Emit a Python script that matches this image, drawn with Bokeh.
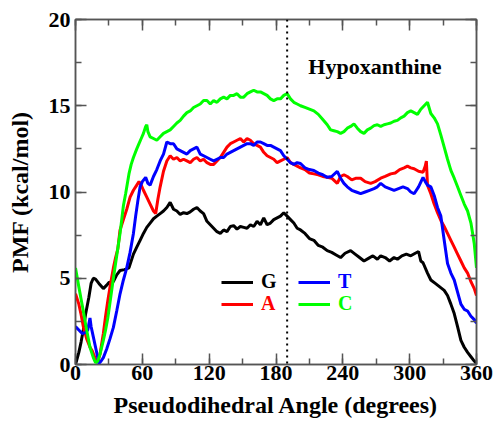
from bokeh.plotting import figure
from bokeh.models import (Range1d, SingleIntervalTicker, LinearAxis, Span, Label,
                          Legend, LegendItem, CustomJSTickFormatter)
from bokeh.embed import file_html
from bokeh.resources import INLINE

# ---- data ----
g_x = [0, 3, 5, 7, 9, 12, 14, 16, 18, 21, 25, 28, 30, 34, 37, 40, 44, 48, 52, 55, 58, 61, 64,
       67, 70, 73, 76, 79, 82, 85, 88, 91, 94, 97, 100, 103, 106, 109, 112, 115, 118, 121, 124,
       127, 130, 133, 136, 139, 142, 145, 148, 151, 154, 157, 160, 163, 166, 169, 172, 175, 178,
       181, 184, 187, 190, 193, 196, 199, 202, 206, 210, 214, 218, 222, 226, 230, 234, 238, 242,
       247, 251, 255, 259, 263, 267, 271, 274, 278, 282, 286, 289, 293, 297, 301, 305, 308, 310,
       312, 316, 319, 323, 327, 331, 334, 337, 340, 343, 346, 349, 352, 355, 358, 360]
g_y = [0.0, 0.7, 1.3, 2.0, 2.9, 3.9, 4.7, 5.0, 4.95, 4.7, 4.4, 4.6, 4.75, 4.8, 5.2, 5.45, 5.5,
       5.6, 6.4, 6.8, 7.2, 7.6, 7.95, 8.2, 8.45, 8.6, 8.75, 8.9, 9.1, 9.4, 9.0, 8.9, 8.7, 8.8,
       8.75, 8.85, 9.0, 9.1, 8.9, 8.75, 8.3, 8.1, 7.9, 7.7, 7.6, 7.8, 7.7, 8.0, 8.05, 7.85, 8.0,
       7.95, 7.9, 8.1, 8.0, 8.3, 8.1, 8.5, 8.1, 8.2, 8.4, 8.5, 8.6, 8.8, 8.6, 8.4, 8.2, 7.9, 7.8,
       7.6, 7.3, 7.2, 6.9, 6.8, 6.6, 6.5, 6.35, 6.2, 6.45, 6.6, 6.4, 6.2, 6.0, 6.15, 6.3, 6.1,
       6.3, 6.2, 6.0, 6.2, 6.1, 6.3, 6.4, 6.3, 6.45, 6.55, 6.0, 5.9, 5.3, 4.9, 4.7, 4.5, 4.3,
       4.0, 3.5, 2.95, 2.2, 1.4, 1.0, 0.7, 0.45, 0.2, 0.05]

a_x = [0, 3, 5, 7, 10, 13, 15, 18, 20, 22, 25, 27, 29, 31, 34, 36, 38, 40, 43, 46, 49, 52, 55,
       57, 59, 61, 64, 67, 70, 72, 74, 76, 79, 82, 85, 88, 91, 94, 97, 100, 103, 106, 109, 112,
       115, 118, 121, 124, 127, 130, 133, 136, 139, 142, 145, 148, 151, 154, 157, 160, 163, 166,
       169, 172, 175, 178, 181, 184, 187, 190, 193, 196, 199, 202, 206, 210, 214, 218, 222, 226,
       230, 235, 238, 241, 244, 248, 252, 256, 260, 265, 269, 274, 278, 283, 287, 291, 295, 298,
       301, 304, 308, 312, 314, 315, 316, 319, 322, 325, 328, 331, 334, 337, 340, 343, 346, 349,
       352, 355, 358, 360]
a_y = [4.1, 3.5, 2.9, 2.2, 1.5, 1.0, 0.8, 0.3, 0.15, 0.6, 1.8, 2.8, 3.7, 4.5, 5.6, 6.2, 6.7,
       7.8, 8.4, 9.0, 9.7, 10.1, 10.4, 10.6, 10.4, 10.1, 9.7, 9.3, 8.9, 8.75, 9.6, 10.3, 11.2,
       11.8, 12.1, 11.9, 12.0, 11.8, 11.9, 11.8, 11.7, 11.9, 12.0, 11.8, 11.9, 11.7, 11.6, 11.6,
       11.8, 12.0, 12.3, 12.6, 12.8, 12.9, 13.0, 13.1, 12.9, 13.1, 13.0, 12.8, 12.7, 12.6, 12.3,
       12.1, 12.0, 11.9, 11.7, 11.8, 11.9, 12.0, 11.7, 11.6, 11.5, 11.4, 11.3, 11.1, 11.05, 11.0,
       10.9, 10.85, 10.8, 10.5, 10.9, 11.0, 10.9, 10.7, 10.8, 10.8, 10.6, 10.5, 10.6, 10.8, 10.9,
       11.05, 11.1, 11.3, 11.4, 11.5, 11.4, 11.35, 11.2, 11.15, 11.5, 11.8, 10.4, 9.9, 9.3, 8.8,
       8.35, 8.0, 7.6, 7.2, 6.8, 6.4, 6.0, 5.6, 5.3, 4.8, 4.4, 4.0]

t_x = [0, 3, 6, 9, 11, 13, 14, 16, 18, 20, 21, 23, 25, 28, 31, 34, 37, 40, 43, 46, 49, 52, 54,
       56, 58, 60, 63, 65, 67, 70, 73, 76, 79, 82, 85, 88, 91, 94, 97, 100, 103, 106, 109, 112,
       115, 118, 121, 124, 127, 130, 133, 136, 139, 142, 145, 148, 151, 154, 157, 160, 163, 166,
       169, 172, 175, 178, 181, 184, 187, 190, 193, 196, 199, 202, 206, 210, 214, 218, 222, 226,
       230, 235, 238, 241, 244, 248, 252, 256, 260, 264, 268, 271, 274, 278, 282, 286, 290, 294,
       298, 301, 304, 308, 312, 314, 316, 319, 322, 325, 328, 331, 334, 337, 340, 343, 346, 349,
       352, 355, 358, 360]
t_y = [2.2, 2.0, 1.8, 1.85, 2.0, 2.7, 2.2, 1.6, 1.0, 0.4, 0.05, 0.2, 0.4, 0.9, 1.5, 2.15, 3.1,
       4.1, 4.9, 5.6, 6.5, 7.6, 8.6, 9.5, 10.3, 10.6, 10.85, 10.5, 10.4, 10.9, 11.3, 11.8, 12.2,
       12.9, 12.8, 12.8, 12.5, 12.4, 12.3, 12.2, 12.4, 12.5, 12.6, 12.2, 12.1, 12.0, 11.9, 11.8,
       11.9, 12.0, 12.0, 12.2, 12.3, 12.4, 12.5, 12.6, 12.7, 12.8, 12.8, 12.7, 12.9, 12.9, 12.8,
       12.7, 12.7, 12.6, 12.5, 12.4, 12.1, 11.9, 11.7, 11.6, 11.7, 11.65, 11.4, 11.3, 11.25, 11.1,
       11.0, 10.85, 10.9, 11.2, 10.8, 10.5, 10.3, 10.1, 10.0, 9.9, 10.0, 10.1, 10.2, 10.3, 10.5,
       10.3, 10.2, 10.1, 10.2, 10.3, 10.2, 10.0, 9.9, 10.3, 10.85, 10.6, 10.4, 10.3, 9.8, 9.1,
       8.6, 7.2, 5.85, 5.3, 4.9, 4.2, 3.5, 3.2, 3.1, 2.8, 2.6, 2.4]

c_x = [0, 3, 5, 7, 10, 13, 16, 18, 20, 22, 25, 27, 29, 31, 34, 37, 40, 43, 45, 48, 50, 52, 55,
       57, 59, 61, 63, 64, 65, 67, 70, 73, 76, 79, 82, 85, 88, 91, 94, 97, 100, 103, 106, 109,
       112, 115, 118, 121, 124, 127, 130, 133, 136, 139, 142, 145, 148, 151, 154, 157, 160, 163,
       166, 169, 172, 175, 178, 181, 184, 187, 190, 193, 196, 199, 202, 206, 210, 214, 218, 222,
       226, 229, 232, 235, 238, 241, 244, 247, 250, 253, 256, 259, 262, 265, 268, 271, 274, 277,
       280, 283, 286, 289, 292, 295, 298, 301, 304, 307, 310, 313, 316, 319, 322, 325, 328, 331,
       334, 337, 340, 343, 346, 349, 352, 355, 358, 360]
c_y = [5.6, 4.5, 3.8, 3.1, 2.0, 1.0, 0.4, 0.1, 0.2, 0.6, 1.4, 2.0, 2.7, 3.6, 5.0, 6.3, 7.6, 9.2,
       9.9, 11.05, 11.6, 12.0, 12.5, 12.8, 13.1, 13.4, 13.8, 13.9, 13.5, 13.2, 13.1, 13.0, 13.2,
       13.4, 13.5, 13.6, 13.8, 14.0, 14.15, 14.4, 14.6, 14.7, 14.9, 15.0, 15.1, 15.3, 15.3, 15.1,
       15.3, 15.2, 15.4, 15.5, 15.4, 15.6, 15.6, 15.7, 15.5, 15.5, 15.7, 15.8, 15.9, 15.8, 15.8,
       15.7, 15.6, 15.4, 15.3, 15.4, 15.4, 15.6, 15.7, 15.4, 15.2, 15.1, 15.0, 14.9, 14.8, 14.7,
       14.5, 14.2, 13.9, 13.6, 13.55, 13.5, 13.4, 13.5, 13.7, 13.8, 13.95, 13.7, 13.5, 13.4, 13.6,
       13.7, 13.85, 13.9, 13.8, 13.9, 13.95, 14.0, 14.1, 14.15, 14.3, 14.4, 14.6, 14.7, 14.6,
       14.5, 14.8, 15.0, 15.2, 14.55, 14.3, 13.95, 13.3, 12.6, 11.9, 11.25, 10.8, 10.3, 9.8, 9.3,
       8.9, 8.2, 7.0, 5.6]

series_names = ["G", "A", "T", "C"]
series_colors = ["#000000", "#ff0000", "#0000ff", "#00ff00"]
x_ticks_interval = 60
y_ticks_interval = 5
marker_angle = 190
FONT = "Liberation Serif"

p = figure(width=494, height=425, x_range=Range1d(0, 360), y_range=Range1d(0, 20),
           output_backend="svg", toolbar_location=None,
           min_border_left=75, min_border_right=18, min_border_top=19, min_border_bottom=61,
           x_axis_label="Pseudodihedral Angle (degrees)", y_axis_label="PMF (kcal/mol)")
p.grid.visible = False
p.outline_line_color = "#555555"
p.outline_line_width = 1.5
p.background_fill_color = "white"
p.border_fill_color = "white"

def style_axis(ax, labels=True):
    ax.axis_line_color = "#555555"
    ax.axis_line_width = 1.5
    ax.major_tick_line_color = "#555555"
    ax.minor_tick_line_color = "#555555"
    ax.major_tick_line_width = 1.5
    ax.minor_tick_line_width = 1.5
    ax.major_tick_in = 11
    ax.major_tick_out = 0
    ax.minor_tick_in = 6
    ax.minor_tick_out = 0
    if labels:
        ax.major_label_text_font = FONT
        ax.major_label_text_font_style = "bold"
        ax.major_label_text_font_size = "22px"
        ax.major_label_text_color = "black"
        ax.axis_label_text_font = FONT
        ax.axis_label_text_font_style = "bold"
        ax.axis_label_text_font_size = "24px"
        ax.axis_label_text_color = "black"
    else:
        ax.formatter = CustomJSTickFormatter(code="return ''")
        ax.major_label_standoff = 0

xt = SingleIntervalTicker(interval=x_ticks_interval, num_minor_ticks=2)
yt = SingleIntervalTicker(interval=y_ticks_interval, num_minor_ticks=2)
p.xaxis.ticker = xt
p.yaxis.ticker = yt
for ax in p.xaxis:
    style_axis(ax)
    ax.major_label_standoff = 1
    ax.axis_label_standoff = 9
for ax in p.yaxis:
    style_axis(ax)
    ax.major_label_standoff = 5
    ax.axis_label_standoff = 13

top = LinearAxis(ticker=SingleIntervalTicker(interval=x_ticks_interval, num_minor_ticks=2))
style_axis(top, labels=False)
p.add_layout(top, "above")
right = LinearAxis(ticker=SingleIntervalTicker(interval=y_ticks_interval, num_minor_ticks=2))
style_axis(right, labels=False)
p.add_layout(right, "right")

xs = [g_x, a_x, t_x, c_x]
ys = [g_y, a_y, t_y, c_y]
renderers = []
for x, y, c in zip(xs, ys, series_colors):
    r = p.line(x, y, line_color=c, line_width=3)
    renderers.append(r)

p.add_layout(Span(location=marker_angle, dimension="height", line_color="black",
                  line_width=2, line_dash="2 4"))

p.add_layout(Label(x=209, y=17.3, text="Hypoxanthine", text_font=FONT,
                   text_font_style="bold", text_font_size="22px", text_color="black",
                   text_baseline="alphabetic"))

legend_locs = [(146, 71), (146, 49), (223, 71), (223, 49)]
for name, c, r, loc in zip(series_names, series_colors, renderers, legend_locs):
    lg = Legend(items=[LegendItem(label=name, renderers=[r])], location=loc,
                label_text_color=c, label_text_font=FONT, label_text_font_style="bold",
                label_text_font_size="20px", glyph_width=32, glyph_height=20,
                label_height=20, label_standoff=8, padding=0, margin=0, spacing=0,
                border_line_alpha=0, background_fill_alpha=0)
    p.add_layout(lg, "center")

open("out.html", "w").write(file_html(p, INLINE))
